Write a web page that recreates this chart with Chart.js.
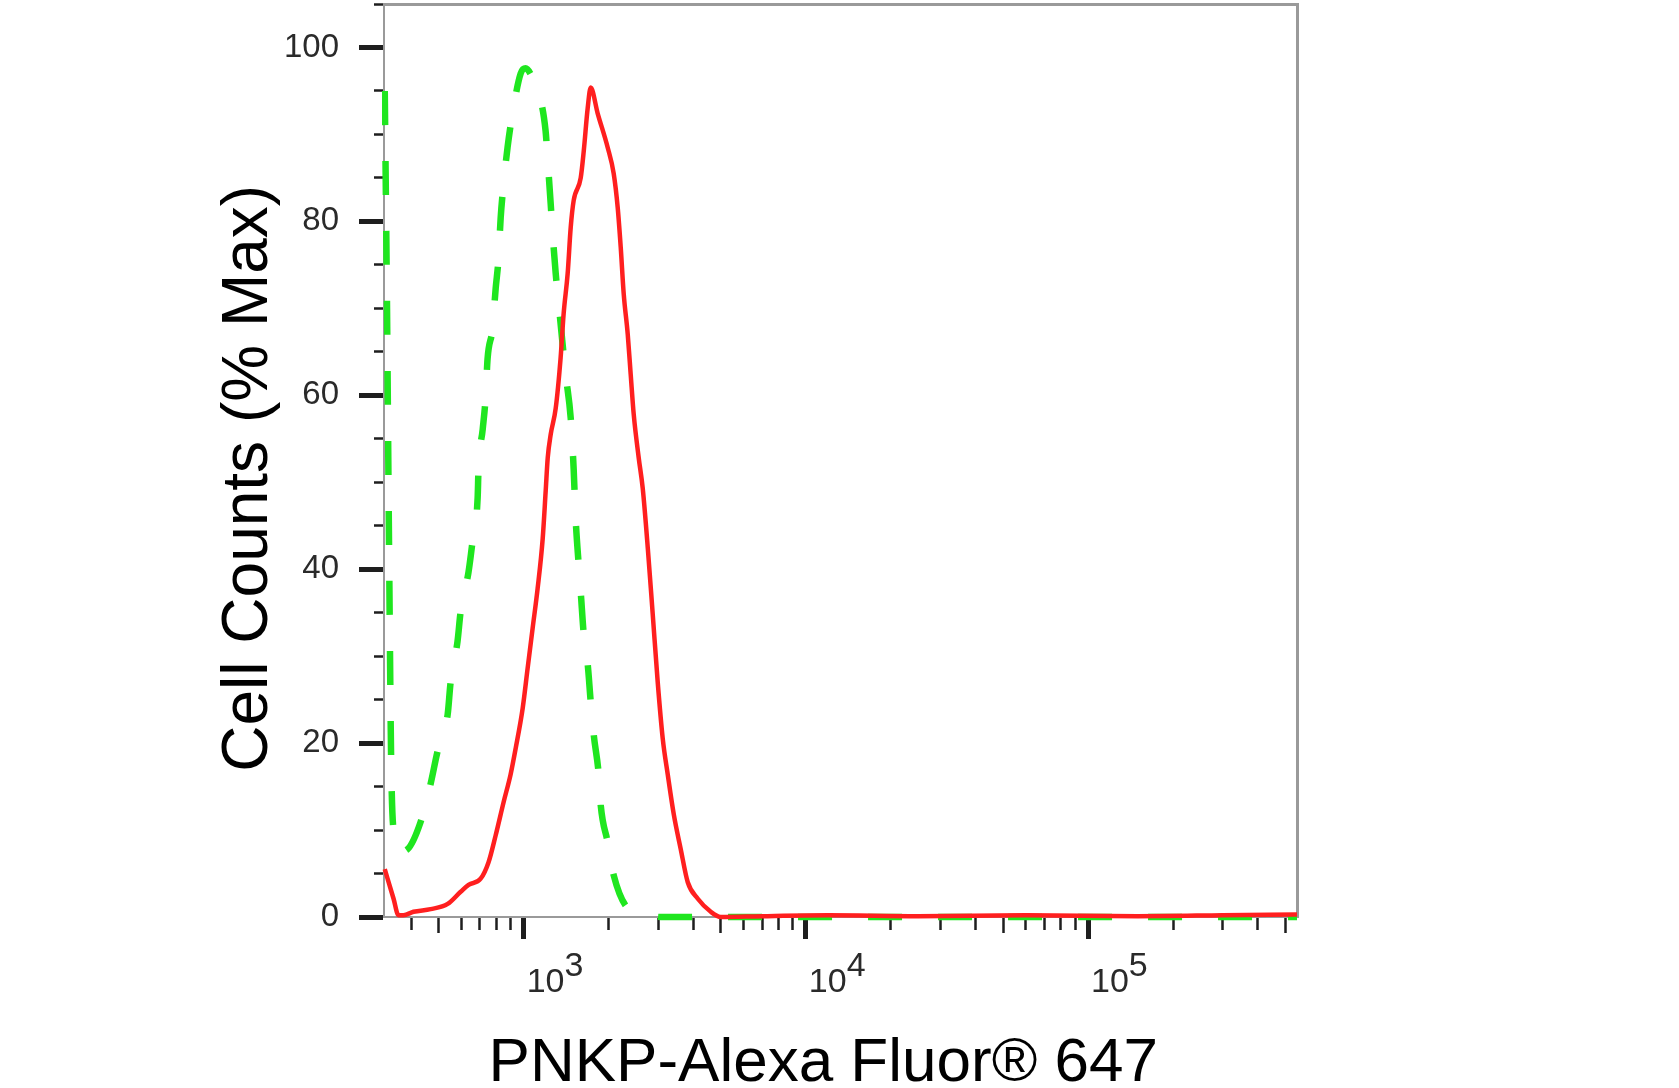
<!DOCTYPE html>
<html>
<head>
<meta charset="utf-8">
<title>PNKP-Alexa Fluor 647 histogram</title>
<script src="https://cdn.jsdelivr.net/npm/chart.js@4.4.1/dist/chart.umd.min.js"></script>
<style>
  html, body { margin: 0; padding: 0; background: #fff; }
  #wrap { position: relative; width: 1679px; height: 1088px; }
</style>
</head>
<body>
<div id="wrap"><canvas id="histChart"></canvas></div>
<script>
// PNKP stained cells (red, solid line)
const redX = [322, 346, 360, 375, 407, 468, 538, 598, 638, 704, 751, 796, 849, 899, 937,
  992, 1033, 1076, 1121, 1168, 1197, 1217, 1247, 1299, 1352, 1386, 1432, 1468, 1504, 1593,
  1633, 1686, 1728, 1830, 1985, 2085, 2154, 2208, 2262, 2338, 2395, 2455, 2557, 2642, 2754,
  2867, 2986, 3111, 3240, 3404, 3603, 3815, 4141, 4603, 4996, 7000, 12000, 25000, 60000,
  150000, 300000, 550000];
const redY = [5.5, 2.1, 0.2, 0.2, 0.6, 0.9, 1.5, 2.9, 3.7, 4.4, 6.3, 9.4, 13.2, 16.4, 19.4,
  24, 28.6, 33.2, 37.8, 43.5, 49, 52.8, 55.5, 58.5, 64.3, 69.4, 74, 79.3, 82.4, 85,
  88.1, 93, 95.4, 92.4, 88.5, 85.5, 81.6, 77, 71.7, 67, 62.4, 57.8, 52.8, 49.3, 42.4,
  34.8, 27, 20.5, 16.4, 11.8, 7.8, 4, 2.1, 0.6, 0, 0.1, 0.2, 0.1, 0.2,
  0.1, 0.2, 0.3];

// control (green, dashed line)
const greenX = [322, 328, 334, 340, 350, 362, 388, 431, 468, 495, 538, 551, 583, 598, 638,
  659, 687, 692, 716, 733, 745, 776, 796, 815, 829, 849, 877, 914, 976, 1016,
  1076, 1130, 1196, 1217, 1247, 1267, 1299, 1331, 1409, 1468, 1504, 1528, 1567, 1593, 1633,
  1686, 1728, 1771, 1845, 1875, 1985, 2085, 2357, 2754, 3061, 6000, 20000, 80000, 550000];
const greenY = [95, 70, 40, 16, 9, 7.5, 7.8, 10.9, 15.3, 19, 23.3, 27, 31.7, 35.1, 39.7,
  43.2, 48.2, 51.6, 56.1, 59.7, 64.2, 67.7, 72.3, 75.8, 80.4, 84.3, 88.5, 92.5, 97, 97.6,
  96.5, 94.8, 90.4, 87, 82, 78.6, 74, 70.5, 62.4, 57.4, 51.5, 45.9, 40.5, 37.4, 32.5,
  29.1, 24.8, 21, 16.4, 12.9, 8.6, 4.8, 0.9, 0.2, 0, 0, 0, 0, 0];

// axis ticks
const xMajorTicks = [1000, 10000, 100000];
const xMajorExponents = ["3", "4", "5"];
const xMidTicks = [500, 5000, 50000, 500000];
const xMinorTicks = [400, 600, 700, 800, 900, 2000, 3000, 4000, 6000, 7000, 8000, 9000,
  20000, 30000, 40000, 60000, 70000, 80000, 90000, 200000, 300000, 400000];
const yTickValues = [0, 5, 10, 15, 20, 25, 30, 35, 40, 45, 50, 55, 60, 65, 70, 75, 80, 85,
  90, 95, 100, 105];
const yLabelValues = [0, 20, 40, 60, 80, 100];

const tickFontFamily = "'Liberation Sans Narrow', 'Liberation Sans', Arial, sans-serif";
const titleFontFamily = "'Liberation Sans', Arial, Helvetica, sans-serif";
const frameColor = "#9a9a9a";
const tickColor = "#1e1e1e";

const toPoints = (xs, ys) => xs.map((x, i) => ({ x: x, y: ys[i] }));

const xTickList = xMajorTicks.concat(xMidTicks, xMinorTicks).sort((a, b) => a - b);

function xTickKind(value) {
    if (xMajorTicks.includes(value)) return "major";
    if (xMidTicks.includes(value)) return "mid";
    return "minor";
}

document.addEventListener("DOMContentLoaded", function () {
    const ctx = document.getElementById("histChart").getContext("2d");
    new Chart(ctx, {
        type: "line",
        data: {
            datasets: [
                {
                    label: "PNKP",
                    data: toPoints(redX, redY),
                    borderColor: "#ff1f1f",
                    borderWidth: 4.5,
                    pointRadius: 0,
                    cubicInterpolationMode: "monotone",
                    borderJoinStyle: "round",
                    clip: { left: 2, top: 0, right: 0, bottom: 4 },
                },
                {
                    label: "Control",
                    data: toPoints(greenX, greenY),
                    borderColor: "#1fe61f",
                    borderWidth: 6.5,
                    borderDash: [34, 36],
                    pointRadius: 0,
                    cubicInterpolationMode: "monotone",
                    clip: { left: 2, top: 0, right: 0, bottom: 4 },
                },
            ],
        },
        options: {
            responsive: true,
            maintainAspectRatio: false,
            animation: false,
            layout: {
                padding: { left: 200, top: 4, right: 382, bottom: 0 },
            },
            scales: {
                x: {
                    type: "logarithmic",
                    position: "bottom",
                    min: 320,
                    max: 550000,
                    afterBuildTicks: (scale) => {
                        scale.ticks = xTickList.map((v) => ({ value: v }));
                    },
                    afterFit: (scale) => {
                        scale.height = 171;
                        scale.paddingLeft = 0;
                        scale.paddingRight = 0;
                    },
                    ticks: {
                        autoSkip: false,
                        maxRotation: 0,
                        minRotation: 0,
                        align: "start",
                        labelOffset: 3,
                        padding: 20,
                        color: "#2a2a2a",
                        font: { family: tickFontFamily, size: 34, lineHeight: 0.46 },
                        callback: function (value) {
                            const i = xMajorTicks.indexOf(value);
                            // superscript exponent on the first line, "10" below it
                            return i >= 0 ? ["    " + xMajorExponents[i], "10"] : "";
                        },
                    },
                    grid: {
                        drawOnChartArea: false,
                        drawTicks: true,
                        tickLength: 22,
                        tickColor: tickColor,
                        tickWidth: (c) => (xTickKind(c.tick.value) === "major" ? 5 : 2.5),
                        tickBorderDash: (c) => {
                            const kind = xTickKind(c.tick.value);
                            if (kind === "major") return [];
                            return kind === "mid" ? [15, 40] : [12, 40];
                        },
                    },
                    border: { color: frameColor, width: 2 },
                    title: {
                        display: true,
                        // trailing spaces nudge the centred title a little to the left
                        text: "PNKP-Alexa Fluor® 647  ",
                        color: "#000",
                        font: { family: titleFontFamily, size: 62, lineHeight: 0.79 },
                        padding: 0,
                    },
                },
                y: {
                    type: "linear",
                    position: "left",
                    min: 0,
                    max: 105,
                    afterBuildTicks: (scale) => {
                        scale.ticks = yTickValues.map((v) => ({ value: v }));
                    },
                    afterFit: (scale) => {
                        scale.width = 184;
                        scale.paddingTop = 0;
                        scale.paddingBottom = 0;
                    },
                    ticks: {
                        autoSkip: false,
                        padding: 20,
                        color: "#2a2a2a",
                        font: { family: tickFontFamily, size: 33 },
                        callback: (value) => (yLabelValues.includes(value) ? String(value) : ""),
                    },
                    grid: {
                        drawOnChartArea: false,
                        drawTicks: true,
                        tickLength: 25,
                        tickColor: tickColor,
                        tickWidth: (c) => (yLabelValues.includes(c.tick.value) ? 5 : 2.5),
                        // minor ticks: only the 10px next to the axis are drawn
                        tickBorderDash: (c) => (yLabelValues.includes(c.tick.value) ? [] : [10, 15]),
                        tickBorderDashOffset: (c) => (yLabelValues.includes(c.tick.value) ? 0 : 10),
                    },
                    border: { color: frameColor, width: 2 },
                    title: {
                        display: true,
                        // trailing spaces move the rotated title slightly down
                        text: "Cell Counts (% Max)  ",
                        color: "#000",
                        font: { family: titleFontFamily, size: 64, lineHeight: 1 },
                        padding: { top: 17, bottom: 0 },
                    },
                },
                // plain frame lines on top and right
                xTop: {
                    type: "linear",
                    position: "top",
                    ticks: { display: false },
                    grid: { drawOnChartArea: false, drawTicks: false },
                    border: { color: frameColor, width: 3 },
                    afterFit: (scale) => {
                        scale.height = 0;
                    },
                },
                yRight: {
                    type: "linear",
                    position: "right",
                    ticks: { display: false },
                    grid: { drawOnChartArea: false, drawTicks: false },
                    border: { color: frameColor, width: 3 },
                    afterFit: (scale) => {
                        scale.width = 0;
                    },
                },
            },
            plugins: {
                legend: { display: false },
                tooltip: { enabled: false },
            },
        },
    });
});
</script>
</body>
</html>
